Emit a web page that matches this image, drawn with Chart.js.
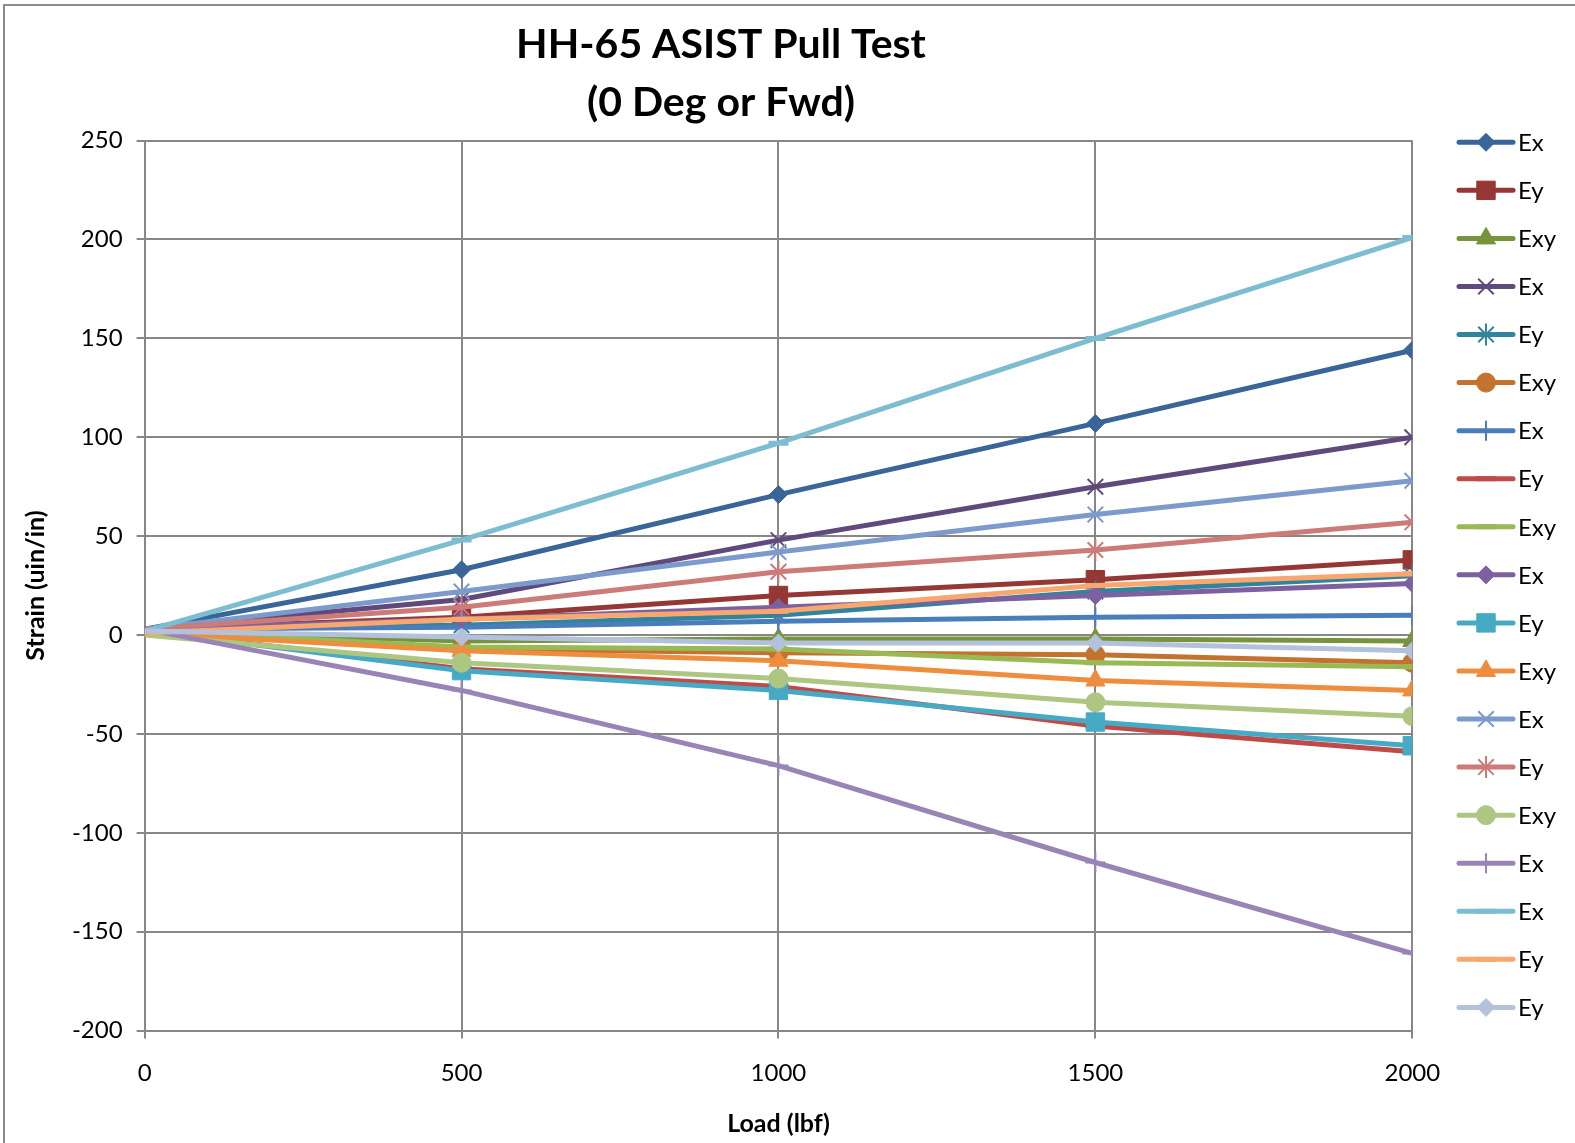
<!DOCTYPE html>
<html>
<head>
<meta charset="utf-8">
<script src="https://cdn.jsdelivr.net/npm/chart.js@4.4.1/dist/chart.umd.min.js"></script>
<style>
  html, body { margin: 0; padding: 0; background: #fff; overflow: hidden; }
  #wrap { position: relative; width: 1575px; height: 1143px; }
  #frame { position: absolute; left: 3px; top: 4px; width: 2000px; height: 2000px; border: 2px solid #8c8c8c; box-sizing: border-box; }
  #chart { position: absolute; left: 0; top: 0; }
</style>
</head>
<body>
<div id="wrap">
  <div id="frame"></div>
  <canvas id="chart" width="1575" height="1143"></canvas>
</div>
<script>
// load steps (lbf)
const loads = [0, 500, 1000, 1500, 2000];

// series labels as in the legend
const seriesLabels = ["Ex", "Ey", "Exy", "Ex", "Ey", "Exy", "Ex", "Ey", "Exy", "Ex",
                      "Ey", "Exy", "Ex", "Ey", "Exy", "Ex", "Ex", "Ey", "Ey"];

// strain readings (uin/in), one array per gauge
const s01 = [3, 33, 71, 107, 144];
const s02 = [3, 9, 20, 28, 38];
const s03 = [2, -3, -2, -2, -3];
const s04 = [3, 18, 48, 75, 100];
const s05 = [3, 5, 10, 22, 30];
const s06 = [2, -7, -9, -10, -14];
const s07 = [3, 4, 7, 9, 10];
const s08 = [2, -17, -26, -46, -59];
const s09 = [2, -6, -7, -14, -16];
const s10 = [3, 8, 14, 20, 26];
const s11 = [2, -18, -28, -44, -56];
const s12 = [1, -8, -13, -23, -28];
const s13 = [3, 22, 42, 61, 78];
const s14 = [3, 14, 32, 43, 57];
const s15 = [0, -14, -22, -34, -41];
const s16 = [3, -28, -66, -115, -161];
const s17 = [2, 48, 97, 150, 201];
const s18 = [1, 8, 12, 25, 31];
const s19 = [2, -1, -4, -4, -8];
const seriesValues = [s01, s02, s03, s04, s05, s06, s07, s08, s09, s10,
                      s11, s12, s13, s14, s15, s16, s17, s18, s19];

const yTicks = [-200, -150, -100, -50, 0, 50, 100, 150, 200, 250];

const colors = ["#3A6598", "#953735", "#77933C", "#604A7B", "#31849B", "#C4722F", "#4A7EBB",
                "#BE4B48", "#98B954", "#7D60A0", "#46AAC5", "#EE8D3D", "#7C9ACB", "#CC7B79",
                "#ADC681", "#9A84B6", "#7CBDD2", "#F8A86F", "#B3C1DC"];

// excel-ish marker cycle
const markers = [
    { style: "rectRot", r: 9, bw: 1 },
    { style: "rect", r: 13, bw: 1 },
    { style: "triangle", r: 11, bw: 1 },
    { style: "crossRot", r: 11, bw: 2 },
    { style: "star", r: 11, bw: 2 },
    { style: "circle", r: 9.5, bw: 1 },
    { style: "cross", r: 10, bw: 2 },
    { style: "line", r: 10, bw: 5 },
];
const markerIdx = [0, 1, 2, 3, 4, 5, 6, 7, 7, 0, 1, 2, 3, 4, 5, 6, 7, 7, 0];

const FONT = "Lato";
const gridColor = "#878787";

const datasets = seriesValues.map((vals, i) => {
    const m = markers[markerIdx[i]];
    return {
        label: seriesLabels[i],
        data: vals.map((v, k) => ({ x: loads[k], y: v })),
        borderColor: colors[i],
        backgroundColor: colors[i],
        borderWidth: 5,
        pointStyle: m.style,
        pointRadius: ctx => ctx.dataIndex === 0 ? 0 : m.r,
        pointHoverRadius: ctx => ctx.dataIndex === 0 ? 0 : m.r,
        pointBorderWidth: m.bw,
        pointBackgroundColor: colors[i],
        pointBorderColor: colors[i],
        tension: 0,
        fill: false,
        order: seriesValues.length - i,
        _marker: m,
    };
});

const titlePlugin = {
    id: "chartTitle",
    afterDraw(chart) {
        const ctx = chart.ctx;
        ctx.save();
        ctx.fillStyle = "#000";
        ctx.font = "bold 41px " + FONT;
        ctx.textAlign = "center";
        ctx.textBaseline = "alphabetic";
        ctx.fillText("HH-65 ASIST Pull Test", 721, 58);
        ctx.fillText("(0 Deg or Fwd)", 721, 116);
        ctx.restore();
    },
};

const legendPlugin = {
    id: "sideLegend",
    afterDraw(chart) {
        const ctx = chart.ctx;
        ctx.save();
        chart.data.datasets.forEach((ds, i) => {
            const y = 142.3 + i * 48.06;
            ctx.strokeStyle = ds.borderColor;
            ctx.lineWidth = 5;
            ctx.lineCap = "round";
            ctx.beginPath();
            ctx.moveTo(1459, y);
            ctx.lineTo(1513, y);
            ctx.stroke();
            const m = ds._marker;
            ctx.fillStyle = ds.backgroundColor;
            ctx.strokeStyle = ds.borderColor;
            ctx.lineWidth = m.bw;
            ctx.lineCap = "butt";
            Chart.helpers.drawPoint(ctx, { pointStyle: m.style, radius: m.r, rotation: 0, borderWidth: m.bw }, 1486, y);
            ctx.fillStyle = "#000";
            ctx.font = "24px " + FONT;
            ctx.textAlign = "left";
            ctx.textBaseline = "middle";
            ctx.fillText(ds.label, 1518, y + 1);
        });
        ctx.restore();
    },
};

new Chart(document.getElementById("chart"), {
    type: "line",
    data: { datasets },
    options: {
        responsive: false,
        animation: false,
        layout: { padding: { left: 0, top: 140.6, right: 162.7, bottom: 4 } },
        plugins: {
            legend: { display: false },
            title: { display: false },
            tooltip: { enabled: false },
        },
        scales: {
            x: {
                type: "linear",
                min: 0,
                max: 2000,
                afterBuildTicks: s => { s.ticks = loads.map(v => ({ value: v })); },
                afterFit: s => { s.height = 108.4; },
                ticks: {
                    color: "#000",
                    font: { family: FONT, size: 24 },
                    padding: 20,
                    maxRotation: 0,
                    callback: v => String(v),
                },
                grid: { color: gridColor, lineWidth: 2, tickLength: 8 },
                border: { color: gridColor, width: 2 },
                title: {
                    display: true,
                    text: "Load (lbf)",
                    color: "#000",
                    font: { family: FONT, size: 25, weight: "bold" },
                    padding: { top: 0, bottom: 0 },
                },
            },
            y: {
                min: -200,
                max: 250,
                afterBuildTicks: s => { s.ticks = yTicks.map(v => ({ value: v })); },
                afterFit: s => { s.width = 144.6; },
                ticks: { color: "#000", font: { family: FONT, size: 24 }, padding: 14 },
                grid: { color: gridColor, lineWidth: 2, tickLength: 8 },
                border: { color: gridColor, width: 2 },
                title: {
                    display: true,
                    text: "Strain (uin/in)",
                    color: "#000",
                    font: { family: FONT, size: 25, weight: "bold" },
                    padding: { top: 21, bottom: 0 },
                },
            },
        },
    },
    plugins: [titlePlugin, legendPlugin],
});
</script>
</body>
</html>
